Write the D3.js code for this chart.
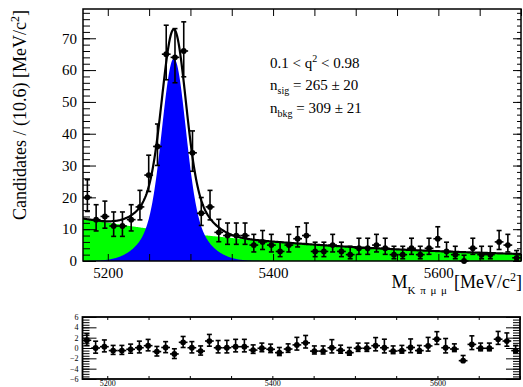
<!DOCTYPE html>
<html><head><meta charset="utf-8">
<script src="https://cdn.jsdelivr.net/npm/d3@7"></script>
<style>
body{margin:0;background:#fff}
svg{display:block}
text{font-family:"Liberation Serif","Times New Roman",serif;fill:#000;white-space:pre}
</style>
</head><body>
<svg id="c" width="523" height="387"></svg>
<script>
// K pi mu mu invariant mass: 50 bins of 10.6 MeV/c^2 from 5170 to 5700
const massRange = [5170, 5700];
const binWidth = 10.6;
const counts = [20, 13, 14, 11, 11, 13, 17, 27, 36, 65,
                64, 66, 34, 15, 17, 9, 8, 8, 8, 5,
                6, 5, 3, 5, 7, 8, 3, 3, 5, 3,
                2, 4, 4, 5, 4, 2, 2, 4, 2, 4,
                7, 3, 2, 0, 4, 2, 2, 6, 5, 1];
const pulls = [1.5, 0.0, 0.25, -0.5, -0.5, -0.25, 0.05, 0.45, -0.7, 0.1,
               -1.15, 1.1, 0.05, -0.6, 1.35, 0.05, 0.05, 0.25, 0.25, -0.4,
               -0.05, -0.25, -0.9, -0.2, 0.6, 1.0, -0.6, -0.6, 0.05, -0.45,
               -0.9, -0.05, -0.05, 0.45, 0.05, -0.6, -0.5, 0.1, -0.5, 0.4,
               1.7, 0.05, -0.2, -2.45, 0.7, -0.05, -0.05, 1.7, 1.35, -0.5];
const countTicks = [0, 10, 20, 30, 40, 50, 60, 70];
const massLabels = [5200, 5400, 5600];
const pullTicks = [-6, -4, -2, 0, 2, 4, 6];

// fit result
const nSig = 265, nSigErr = 20;
const nBkg = 309, nBkgErr = 21;
const sigMean = 5280, sigCore = 13.8, sigWide = 30, coreFrac = 0.6;
const bkgSlope = -0.0034;

const svg = d3.select("#c");
const FONT = "Liberation Serif";

// ---------- scales ----------
const x = d3.scaleLinear().domain(massRange).range([83, 521]);
const y = d3.scaleLinear().domain([0, 79.2]).range([261, 9]);
const xp = d3.scaleLinear().domain(massRange).range([82.5, 520]);
const yp = d3.scaleLinear().domain([-6, 6]).range([379, 317]);

// ---------- model ----------
const gauss = (m, mu, s) => Math.exp(-0.5 * ((m - mu) / s) ** 2) / (s * Math.sqrt(2 * Math.PI));
const sigCurve = m => nSig * binWidth * (coreFrac * gauss(m, sigMean, sigCore) + (1 - coreFrac) * gauss(m, sigMean, sigWide));
const bkgNorm = -bkgSlope / (1 - Math.exp(bkgSlope * (massRange[1] - massRange[0])));
const bkgCurve = m => nBkg * binWidth * bkgNorm * Math.exp(bkgSlope * (m - massRange[0]));
const totCurve = m => sigCurve(m) + bkgCurve(m);

const grid = d3.range(0, 601).map(i => massRange[0] + (massRange[1] - massRange[0]) * i / 600);

// Poisson 68% intervals
const errLo = n => n === 0 ? 0 : n - n * Math.pow(1 - 1 / (9 * n) - 1 / (3 * Math.sqrt(n)), 3);
const errHi = n => (n + 1) * Math.pow(1 - 1 / (9 * (n + 1)) + 1 / (3 * Math.sqrt(n + 1)), 3) - n;

const bins = counts.map((n, i) => {
  const lo = massRange[0] + i * binWidth;
  return {lo, hi: lo + binWidth, c: lo + binWidth / 2, n, el: errLo(n), eh: errHi(n), pull: pulls[i]};
});

svg.append("clipPath").attr("id", "mainClip").append("rect")
  .attr("x", 83).attr("y", 9).attr("width", 438).attr("height", 252);

const plot = svg.append("g").attr("clip-path", "url(#mainClip)");

// background component
plot.append("path")
  .attr("d", d3.area().x(d => x(d)).y0(y(0)).y1(d => y(bkgCurve(d)))(grid))
  .attr("fill", "#00ff00");
// signal component
plot.append("path")
  .attr("d", d3.area().x(d => x(d)).y0(y(0)).y1(d => y(sigCurve(d)))(grid))
  .attr("fill", "#0000ff");
// total fit
plot.append("path")
  .attr("d", d3.line().x(d => x(d)).y(d => y(totCurve(d)))(grid))
  .attr("fill", "none").attr("stroke", "#000").attr("stroke-width", 2.2);

// data points with bin-width bars and capped error bars
function drawPoints(g, pts, sx, sy, val, up, dn) {
  const gp = g.selectAll("g.pt").data(pts).join("g").attr("class", "pt");
  gp.append("line").attr("x1", d => sx(d.lo)).attr("x2", d => sx(d.hi))
    .attr("y1", d => sy(val(d))).attr("y2", d => sy(val(d)));
  gp.append("line").attr("x1", d => sx(d.c)).attr("x2", d => sx(d.c))
    .attr("y1", d => sy(val(d) + up(d))).attr("y2", d => sy(val(d) - dn(d)));
  gp.append("line").attr("x1", d => sx(d.c) - 2.5).attr("x2", d => sx(d.c) + 2.5)
    .attr("y1", d => sy(val(d) + up(d))).attr("y2", d => sy(val(d) + up(d)));
  gp.filter(d => dn(d) > 0).append("line").attr("x1", d => sx(d.c) - 2.5).attr("x2", d => sx(d.c) + 2.5)
    .attr("y1", d => sy(val(d) - dn(d))).attr("y2", d => sy(val(d) - dn(d)));
  gp.selectAll("line").attr("stroke", "#000").attr("stroke-width", 1.6);
  gp.append("circle").attr("cx", d => sx(d.c)).attr("cy", d => sy(val(d))).attr("r", 2.9).attr("fill", "#000");
}
drawPoints(svg.append("g"), bins, x, y, d => d.n, d => d.eh, d => d.el);

// ---------- axes helpers ----------
function styleAxis(g) {
  g.select(".domain").remove();
  g.selectAll("line").attr("stroke", "#000").attr("stroke-width", 1);
  g.selectAll("text").attr("font-family", FONT).attr("fill", "#000");
}
const every50 = d3.range(5200, 5701, 50);

// main frame axes
svg.append("g").attr("transform", "translate(83,0)")
  .call(d3.axisLeft(y).tickValues(d3.range(0, 79.2, 2)).tickSize(-7).tickFormat(""))
  .call(styleAxis);
svg.append("g").attr("transform", "translate(83,0)")
  .call(d3.axisLeft(y).tickValues(countTicks).tickSize(-13).tickPadding(6).tickFormat(d3.format("d")))
  .call(styleAxis).selectAll("text").attr("font-size", 15);
svg.append("g").attr("transform", "translate(521,0)")
  .call(d3.axisRight(y).tickValues(d3.range(0, 79.2, 2)).tickSize(-4).tickFormat(""))
  .call(styleAxis);
svg.append("g").attr("transform", "translate(521,0)")
  .call(d3.axisRight(y).tickValues(countTicks).tickSize(-8).tickFormat(""))
  .call(styleAxis);
svg.append("g").attr("transform", "translate(0,261)")
  .call(d3.axisBottom(x).tickValues(every50).tickSize(-7).tickPadding(6)
    .tickFormat(d => massLabels.includes(d) ? String(d) : ""))
  .call(styleAxis).selectAll("text").attr("font-size", 15);
svg.append("g").attr("transform", "translate(0,9)")
  .call(d3.axisTop(x).tickValues(every50).tickSize(-7).tickFormat(""))
  .call(styleAxis);
svg.append("rect").attr("x", 83).attr("y", 9).attr("width", 438).attr("height", 252)
  .attr("fill", "none").attr("stroke", "#000").attr("stroke-width", 1.5);

// axis titles
const yt = svg.append("text").attr("transform", "translate(26,10) rotate(-90)")
  .attr("text-anchor", "end").attr("font-size", 18);
yt.append("tspan").text("Candidates / (10.6) [MeV/c");
yt.append("tspan").attr("dy", -7).attr("font-size", 12).text("2");
yt.append("tspan").attr("dy", 7).text("]");

// x title: unit part anchored at the frame edge, symbol placed to its left
const xtUnit = svg.append("text").attr("x", 522).attr("y", 288).attr("text-anchor", "end").attr("font-size", 18);
xtUnit.append("tspan").text("[MeV/c");
xtUnit.append("tspan").attr("dy", -7).attr("font-size", 12).text("2");
xtUnit.append("tspan").attr("dy", 7).text("]");
const xtSym = svg.append("text").attr("x", 448).attr("y", 288).attr("text-anchor", "end").attr("font-size", 18);
xtSym.append("tspan").text("M");
xtSym.append("tspan").attr("dy", 6).attr("font-size", 11).attr("letter-spacing", 1).text("K π μ μ");

// fit summary
const info = svg.append("g").attr("font-size", 15);
const t1 = info.append("text").attr("x", 270).attr("y", 68);
t1.append("tspan").text("0.1 < q");
t1.append("tspan").attr("dy", -6).attr("font-size", 10).text("2");
t1.append("tspan").attr("dy", 6).text(" < 0.98");
const t2 = info.append("text").attr("x", 270).attr("y", 90);
t2.append("tspan").text("n");
t2.append("tspan").attr("dy", 4).attr("font-size", 10).text("sig");
t2.append("tspan").attr("dy", -4).text(` = ${nSig} ± ${nSigErr}`);
const t3 = info.append("text").attr("x", 270).attr("y", 113);
t3.append("tspan").text("n");
t3.append("tspan").attr("dy", 4).attr("font-size", 10).text("bkg");
t3.append("tspan").attr("dy", -4).text(` = ${nBkg} ± ${nBkgErr}`);

// ---------- pull panel ----------
drawPoints(svg.append("g"), bins, xp, yp, d => d.pull,
  d => d.pull >= 0 ? (d.n > 0 ? d.eh / d.el : 1) : 1,
  d => d.pull >= 0 ? 1 : d.el / d.eh);

const pullMinor = d3.range(-6, 6.01, 0.5);
svg.append("g").attr("transform", "translate(82.5,0)")
  .call(d3.axisLeft(yp).tickValues(pullMinor).tickSize(-7).tickFormat(""))
  .call(styleAxis);
svg.append("g").attr("transform", "translate(82.5,0)")
  .call(d3.axisLeft(yp).tickValues(pullTicks).tickSize(-14).tickPadding(4).tickFormat(d3.format("d")))
  .call(styleAxis).selectAll("text").attr("font-size", 8);
svg.append("g").attr("transform", "translate(520,0)")
  .call(d3.axisRight(yp).tickValues(pullMinor).tickSize(-7).tickFormat(""))
  .call(styleAxis);
svg.append("g").attr("transform", "translate(520,0)")
  .call(d3.axisRight(yp).tickValues(pullTicks).tickSize(-14).tickFormat(""))
  .call(styleAxis);
svg.append("g").attr("transform", "translate(0,379)")
  .call(d3.axisBottom(xp).tickValues(every50).tickSize(-3).tickPadding(1)
    .tickFormat(d => massLabels.includes(d) ? String(d) : ""))
  .call(styleAxis).selectAll("text").attr("font-size", 8);
svg.append("g").attr("transform", "translate(0,317)")
  .call(d3.axisTop(xp).tickValues(every50).tickSize(-3).tickFormat(""))
  .call(styleAxis);
svg.append("rect").attr("x", 82.5).attr("y", 317).attr("width", 437.5).attr("height", 62)
  .attr("fill", "none").attr("stroke", "#000").attr("stroke-width", 1.8);
</script>
</body></html>
